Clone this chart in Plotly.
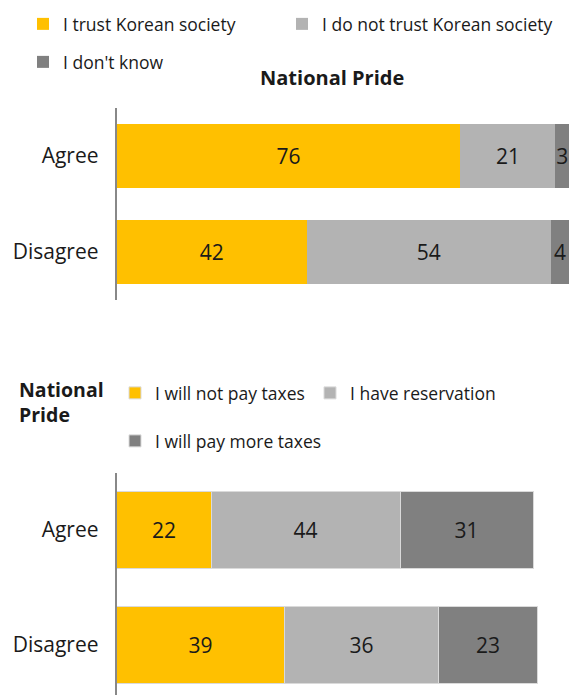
import plotly.graph_objects as go

# Survey responses by national pride (percent)
pride_groups = ["Agree", "Disagree"]

trust_labels = ["I trust Korean society", "I do not trust Korean society", "I don't know"]
trust_values = [
    [76, 42],   # I trust Korean society
    [21, 54],   # I do not trust Korean society
    [3, 4],     # I don't know
]

tax_labels = ["I will not pay taxes", "I have reservation", "I will pay more taxes"]
tax_values = [
    [22, 39],   # I will not pay taxes
    [44, 36],   # I have reservation
    [31, 23],   # I will pay more taxes
]

colors = ["#FFC000", "#B3B3B3", "#808080"]
FONT = "Open Sans"
W, H = 569, 695

fig = go.Figure()

# legend assignment and per-entry width (0 = size to text)
top_legends = ["legend", "legend", "legend2"]
top_entry_w = [214, 0, 0]
bottom_legends = ["legend3", "legend3", "legend4"]
bottom_entry_w = [150, 0, 0]

for name, vals, col, lg, ew in zip(trust_labels, trust_values, colors, top_legends, top_entry_w):
    fig.add_trace(go.Bar(
        y=pride_groups, x=vals, name=name, orientation="h",
        marker=dict(color=col, line=dict(width=0)),
        text=[str(v) for v in vals], textposition="inside",
        insidetextanchor="middle", textangle=0,
        textfont=dict(family=FONT, size=21, color="#1a1a1a"),
        xaxis="x", yaxis="y", legend=lg, legendwidth=ew or None, width=0.667,
        hoverinfo="x+name",
    ))

for name, vals, col, lg, ew in zip(tax_labels, tax_values, colors, bottom_legends, bottom_entry_w):
    fig.add_trace(go.Bar(
        y=pride_groups, x=vals, name=name, orientation="h",
        marker=dict(color=col, line=dict(width=1, color="#DADADA")),
        text=[str(v) for v in vals], textposition="inside",
        insidetextanchor="middle", textangle=0,
        textfont=dict(family=FONT, size=21, color="#1a1a1a"),
        xaxis="x2", yaxis="y2", legend=lg, legendwidth=ew or None, width=0.667,
        hoverinfo="x+name",
    ))


def px_x(p):
    return p / W


def px_y(p):
    return 1 - p / H


axis_x = 116.7

legend_common = dict(
    orientation="h", xanchor="left", yanchor="middle",
    traceorder="normal",
    font=dict(family=FONT, size=17.5, color="#1a1a1a"),
    bgcolor="rgba(0,0,0,0)", borderwidth=0,
    entrywidthmode="pixels", entrywidth=0,
)

tick_font = dict(family=FONT, size=21, color="#1a1a1a")

fig.update_layout(
    width=W, height=H,
    margin=dict(l=0, r=0, t=0, b=0),
    paper_bgcolor="white", plot_bgcolor="white",
    barmode="stack",
    font=dict(family=FONT, color="#1a1a1a"),
    uniformtext=dict(minsize=21, mode="show"),
    xaxis=dict(domain=[px_x(axis_x), 1], range=[0, 100], visible=False, fixedrange=True),
    yaxis=dict(
        domain=[px_y(300), px_y(108)], range=[1.5, -0.5], type="category",
        showline=True, linecolor="#888888", linewidth=2, showgrid=False,
        zeroline=False, ticks="", ticklabelstandoff=12,
        tickfont=tick_font, anchor="x",
    ),
    xaxis2=dict(domain=[px_x(axis_x), px_x(546)], range=[0, 100], visible=False,
                anchor="y2", fixedrange=True),
    yaxis2=dict(
        domain=[0, px_y(472.5)], range=[1.5 - 7.5 / 115, -0.5], type="category",
        showline=True, linecolor="#888888", linewidth=2, showgrid=False,
        zeroline=False, ticks="", ticklabelstandoff=12,
        tickfont=tick_font, anchor="x2",
    ),
    legend=dict(legend_common, x=px_x(23), y=px_y(24)),
    legend2=dict(legend_common, x=px_x(23), y=px_y(62)),
    legend3=dict(legend_common, x=px_x(115), y=px_y(393)),
    legend4=dict(legend_common, x=px_x(115), y=px_y(441)),
    annotations=[
        dict(text="<b>National Pride</b>", x=px_x(332), y=px_y(77),
             xref="paper", yref="paper", xanchor="center", yanchor="middle",
             showarrow=False, font=dict(family=FONT, size=20, color="#1a1a1a")),
        dict(text="<b>National<br>Pride</b>", x=px_x(17), y=px_y(402),
             xref="paper", yref="paper", xanchor="left", yanchor="middle",
             align="left", showarrow=False,
             font=dict(family=FONT, size=19.5, color="#1a1a1a")),
    ],
)

fig.write_html("out.html")
